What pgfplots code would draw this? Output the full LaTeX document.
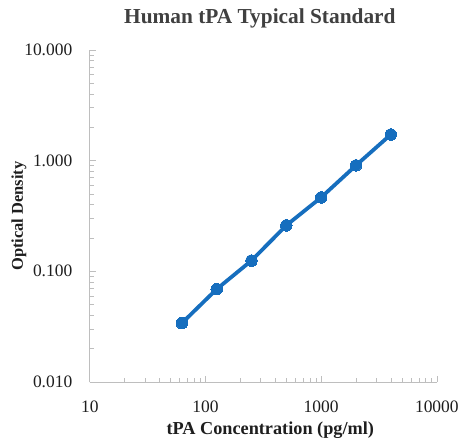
\documentclass[border=0pt]{standalone}
\usepackage{pgfplots}
\pgfplotsset{compat=1.18}
\usepackage{fontspec}
\setmainfont{Liberation Serif}
\definecolor{ser}{RGB}{22,110,190}
\definecolor{spine}{RGB}{190,190,190}
\definecolor{txt}{RGB}{30,30,30}
\definecolor{ttl}{RGB}{64,64,64}
\begin{document}
\begin{tikzpicture}
\begin{axis}[
  at={(0,0)}, anchor=south west,
  scale only axis, width=348pt, height=333pt,
  xmode=log, ymode=log,
  xmin=10, xmax=10000, ymin=0.01, ymax=10,
  axis lines*=left,
  axis line style={spine, line width=0.8pt},
  tick style={spine, line width=0.6pt},
  major tick length=6pt, minor tick length=4pt,
  tick align=inside,
  xtick={10,100,1000,10000},
  xticklabels={10,100,1000,10000},
  ytick={0.01,0.1,1,10},
  yticklabels={0.010,0.100,1.000,10.000},
  log identify minor tick positions=true,
  ticklabel style={font=\fontsize{17.5}{19}\selectfont, text=txt},
  xticklabel style={yshift=-15pt},
  yticklabel style={xshift=-14pt},
  title={\textbf{Human tPA Typical Standard}},
  title style={font=\fontsize{21.4}{23}\selectfont, text=ttl, at={(rel axis cs:0.49,1)}, anchor=base, yshift=20pt},
  xlabel={\textbf{tPA Concentration (pg/ml)}},
  xlabel style={font=\fontsize{18.3}{20}\selectfont, text=txt, at={(rel axis cs:0.52,0)}, anchor=base, yshift=-53pt},
  ylabel={\textbf{Optical Density}},
  ylabel style={font=\fontsize{16.5}{18}\selectfont, text=txt, at={(rel axis cs:0,0.5)}, anchor=center, yshift=71pt},
  clip=false,
]
\addplot[ser, line width=3.8pt, mark=*, mark size=5.8pt, mark options={fill=ser, draw=ser, line width=0pt}]
  coordinates {(62.5,0.034) (125,0.069) (250,0.125) (500,0.26) (1000,0.465) (2000,0.905) (4000,1.72)};
\end{axis}
\path[use as bounding box] (-90pt,-58pt) rectangle (372pt,383pt);
\end{tikzpicture}
\end{document}
